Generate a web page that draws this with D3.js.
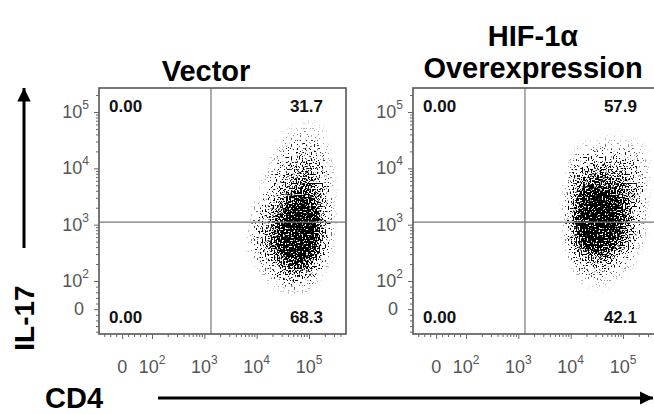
<!DOCTYPE html>
<html>
<head>
<meta charset="utf-8">
<script src="https://cdn.jsdelivr.net/npm/d3@7"></script>
<style>
  body { margin: 0; background: #fff; }
  svg { display: block; }
  text { font-family: "Liberation Sans", Arial, sans-serif; }
</style>
</head>
<body>
<svg id="chart" width="654" height="414"></svg>
<script>
// cell centres of the density grid, log10 of the intensity
var cd4Centers = [3.9, 4.1, 4.3, 4.5, 4.7, 4.9, 5.1, 5.3, 5.5];
var il17Centers = [4.9, 4.7, 4.5, 4.3, 4.1, 3.9, 3.7, 3.5, 3.3, 3.1, 2.9, 2.7, 2.5, 2.3, 2.1, 1.9, 1.7, 1.5];
var cellStep = 0.2;

// relative event density (rows = il17Centers, cols = cd4Centers)
var vectorDensity = [
  [0, 0, 0, .03, .05, .06, .05, .03, .01],
  [0, 0, .02, .06, .10, .12, .12, .07, .02],
  [0, 0, .04, .12, .18, .22, .20, .10, .03],
  [0, .02, .08, .20, .30, .35, .30, .16, .04],
  [0, .03, .12, .28, .40, .45, .40, .22, .06],
  [.02, .06, .18, .36, .50, .55, .50, .28, .07],
  [.03, .10, .25, .45, .60, .65, .58, .32, .08],
  [.05, .15, .35, .55, .72, .78, .68, .36, .08],
  [.08, .25, .45, .65, .85, .90, .78, .40, .08],
  [.12, .35, .55, .75, .95, 1, .85, .40, .07],
  [.15, .40, .62, .82, 1, 1, .90, .40, .06],
  [.15, .42, .65, .85, 1, 1, .88, .36, .05],
  [.12, .35, .55, .78, .95, .95, .75, .28, .03],
  [.06, .20, .38, .58, .75, .72, .50, .16, .02],
  [.02, .08, .20, .35, .45, .42, .28, .06, 0],
  [0, .03, .08, .15, .20, .18, .10, .02, 0],
  [0, 0, .02, .05, .07, .06, .03, 0, 0],
  [0, 0, 0, .01, .02, .02, .01, 0, 0]
];
var hifDensity = [
  [0, 0, .01, .02, .03, .03, .03, .02, .01],
  [0, .01, .02, .04, .05, .05, .04, .03, .02],
  [0, .03, .06, .09, .10, .10, .09, .08, .04],
  [.02, .12, .20, .24, .24, .22, .20, .16, .06],
  [.05, .26, .38, .44, .42, .38, .34, .24, .08],
  [.08, .38, .55, .60, .58, .52, .45, .30, .08],
  [.10, .50, .70, .76, .72, .64, .54, .33, .08],
  [.12, .60, .85, .90, .85, .75, .60, .34, .08],
  [.14, .68, .95, 1, .95, .82, .62, .30, .06],
  [.14, .72, 1, 1, 1, .85, .60, .28, .05],
  [.13, .68, .98, 1, 1, .82, .55, .24, .04],
  [.11, .58, .88, .95, .90, .72, .45, .16, .03],
  [.07, .42, .65, .72, .68, .50, .30, .09, .02],
  [.03, .22, .40, .45, .40, .28, .15, .04, 0],
  [.01, .09, .20, .22, .20, .12, .06, .02, 0],
  [0, .03, .08, .10, .08, .05, .02, 0, 0],
  [0, .01, .03, .04, .03, .02, .01, 0, 0],
  [0, 0, 0, .01, .01, 0, 0, 0, 0]
];

var panelTitles = [["Vector"], ["HIF-1\u03b1", "Overexpression"]];
// quadrant percentages: upper left, upper right, lower left, lower right
var vectorQuadrants = ["0.00", "31.7", "0.00", "68.3"];
var hifQuadrants = ["0.00", "57.9", "0.00", "42.1"];
var majorTicks = [0, 100, 1000, 10000, 100000];
var majorExponents = ["", "2", "3", "4", "5"];
var gateCD4 = 1340, gateIL17 = 1110;

var svg = d3.select("#chart");
var W = 247, H = 246;
var grey = "#666";

// biexponential-like display: log above 100, linear from 0 to 100
function disp(v, zeroGap) {
  return v >= 100 ? Math.log10(v) : 2 - zeroGap * (1 - v / 100);
}
var xGap = 0.57, yGap = 0.5;
var xLin = d3.scaleLinear().domain([2, 5]).range([53, 210]);
var yLin = d3.scaleLinear().domain([2, 5]).range([193, 24]);
function xs(v) { return xLin(disp(v, xGap)); }
function ys(v) { return yLin(disp(v, yGap)); }

var minorTicks = [];
[100, 1000, 10000, 100000].forEach(function(d) {
  for (var k = 2; k <= 9; k++) minorTicks.push(k * d);
});
[-100, -80, -60, -40, -20, 20, 40, 60, 80].forEach(function(v) { minorTicks.push(v); });

var defs = svg.append("defs");
// turns the blurred density grid into a stipple of single events
var f = defs.append("filter").attr("id", "stipple")
  .attr("filterUnits", "userSpaceOnUse")
  .attr("x", -20).attr("y", -20).attr("width", 300).attr("height", 290);
f.append("feGaussianBlur").attr("in", "SourceAlpha").attr("stdDeviation", 4.5).attr("result", "blur");
f.append("feComponentTransfer").attr("in", "blur").attr("result", "dens")
  .append("feFuncA").attr("type", "gamma").attr("amplitude", 1.18).attr("exponent", 1.3).attr("offset", 0);
f.append("feTurbulence").attr("type", "fractalNoise").attr("baseFrequency", 0.65)
  .attr("numOctaves", 1).attr("seed", 4).attr("result", "noise");
f.append("feColorMatrix").attr("in", "noise").attr("type", "matrix")
  .attr("values", "0 0 0 0 0  0 0 0 0 0  0 0 0 0 0  1 0 0 0 0").attr("result", "na");
f.append("feComponentTransfer").attr("in", "na").attr("result", "ns")
  .append("feFuncA").attr("type", "linear").attr("slope", 3).attr("intercept", -1);
f.append("feComposite").attr("in", "dens").attr("in2", "ns").attr("operator", "arithmetic")
  .attr("k1", 0).attr("k2", 1).attr("k3", 1).attr("k4", -1.02).attr("result", "dots");
f.append("feComponentTransfer").attr("in", "dots")
  .append("feFuncA").attr("type", "linear").attr("slope", 6).attr("intercept", 0);

defs.append("marker").attr("id", "head").attr("viewBox", "0 0 10 10")
  .attr("refX", 10).attr("refY", 5).attr("markerWidth", 4.5).attr("markerHeight", 4.5)
  .attr("markerUnits", "strokeWidth").attr("orient", "auto")
  .append("path").attr("d", "M0,0L10,5L0,10Z").attr("fill", "#000");

function drawPanel(ox, oy, density, quads, id) {
  var g = svg.append("g").attr("transform", "translate(" + ox + "," + oy + ")");

  defs.append("clipPath").attr("id", "clip" + id)
    .append("rect").attr("width", W).attr("height", H);

  var cells = [];
  density.forEach(function(row, i) {
    row.forEach(function(d, j) {
      if (d > 0) cells.push({ x: cd4Centers[j], y: il17Centers[i], d: d });
    });
  });
  g.append("g").attr("clip-path", "url(#clip" + id + ")")
    .append("g").attr("filter", "url(#stipple)")
    .selectAll("rect").data(cells).join("rect")
    .attr("x", function(c) { return xs(Math.pow(10, c.x - cellStep / 2)); })
    .attr("width", function(c) { return xs(Math.pow(10, c.x + cellStep / 2)) - xs(Math.pow(10, c.x - cellStep / 2)); })
    .attr("y", function(c) { return ys(Math.pow(10, c.y + cellStep / 2)); })
    .attr("height", function(c) { return ys(Math.pow(10, c.y - cellStep / 2)) - ys(Math.pow(10, c.y + cellStep / 2)); })
    .attr("fill", "#000")
    .attr("fill-opacity", function(c) { return c.d; });

  // quadrant gate
  g.append("line").attr("x1", xs(gateCD4)).attr("x2", xs(gateCD4)).attr("y1", 0).attr("y2", H)
    .attr("stroke", "#777").attr("stroke-width", 1.2);
  g.append("line").attr("x1", 0).attr("x2", W).attr("y1", ys(gateIL17)).attr("y2", ys(gateIL17))
    .attr("stroke", "#777").attr("stroke-width", 1.2);

  g.append("rect").attr("width", W).attr("height", H)
    .attr("fill", "none").attr("stroke", "#555").attr("stroke-width", 1.6);

  // axes with major and minor ticks
  var yMinor = minorTicks.map(function(v) { return disp(v, yGap); })
    .filter(function(d) { var p = yLin(d); return p > 1 && p < H - 1; });
  var xMinor = minorTicks.map(function(v) { return disp(v, xGap); })
    .filter(function(d) { var p = xLin(d); return p > 1 && p < W - 1; });
  var yMajor = majorTicks.map(function(v) { return disp(v, yGap); });
  var xMajor = majorTicks.map(function(v) { return disp(v, xGap); });

  [[yMinor, 3], [yMajor, 5]].forEach(function(t) {
    g.append("g").call(d3.axisLeft(yLin).tickValues(t[0]).tickSize(t[1]).tickFormat(""))
      .call(function(a) { a.select(".domain").remove(); a.selectAll("line").attr("stroke", grey); });
  });
  [[xMinor, 3], [xMajor, 5]].forEach(function(t) {
    g.append("g").attr("transform", "translate(0," + H + ")")
      .call(d3.axisBottom(xLin).tickValues(t[0]).tickSize(t[1]).tickFormat(""))
      .call(function(a) { a.select(".domain").remove(); a.selectAll("line").attr("stroke", grey); });
  });

  function tickLabel(t, i) {
    t.attr("font-family", "'Liberation Serif', 'Times New Roman', serif")
      .attr("font-size", 18).attr("fill", "#555");
    if (majorExponents[i]) {
      t.append("tspan").text("10");
      t.append("tspan").attr("font-size", 12).attr("dy", -9).text(majorExponents[i]);
    } else {
      t.append("tspan").text("0");
    }
  }
  majorTicks.forEach(function(v, i) {
    g.append("text").attr("text-anchor", "end")
      .attr("x", majorExponents[i] ? -10 : -15).attr("y", ys(v) + 6)
      .call(tickLabel, i);
    g.append("text").attr("text-anchor", "middle")
      .attr("x", xs(v)).attr("y", H + 39)
      .call(tickLabel, i);
  });

  // quadrant percentages
  var qpos = [[10, 24, "start"], [224, 24, "end"], [10, 235, "start"], [224, 235, "end"]];
  quads.forEach(function(q, i) {
    g.append("text").attr("x", qpos[i][0]).attr("y", qpos[i][1])
      .attr("text-anchor", qpos[i][2])
      .attr("font-size", 17).attr("font-weight", "bold").attr("fill", "#111")
      .text(q);
  });
}

drawPanel(99, 88, vectorDensity, vectorQuadrants, 0);
drawPanel(413, 88, hifDensity, hifQuadrants, 1);

// titles
svg.append("text").attr("x", 206).attr("y", 81).attr("text-anchor", "middle")
  .attr("font-size", 29).attr("font-weight", "bold").text(panelTitles[0][0]);
panelTitles[1].forEach(function(t, i) {
  svg.append("text").attr("x", 533).attr("y", 46 + i * 32).attr("text-anchor", "middle")
    .attr("font-size", 29).attr("font-weight", "bold").text(t);
});

// axis names with arrows
svg.append("line").attr("x1", 24).attr("y1", 248).attr("x2", 24).attr("y2", 88)
  .attr("stroke", "#000").attr("stroke-width", 3).attr("marker-end", "url(#head)");
svg.append("text").attr("transform", "translate(34,318) rotate(-90)")
  .attr("text-anchor", "middle").attr("font-size", 28).attr("font-weight", "bold").text("IL-17");
svg.append("line").attr("x1", 158).attr("y1", 398).attr("x2", 653).attr("y2", 398)
  .attr("stroke", "#000").attr("stroke-width", 3).attr("marker-end", "url(#head)");
svg.append("text").attr("x", 45).attr("y", 408)
  .attr("font-size", 29).attr("font-weight", "bold").text("CD4");
</script>
</body>
</html>
